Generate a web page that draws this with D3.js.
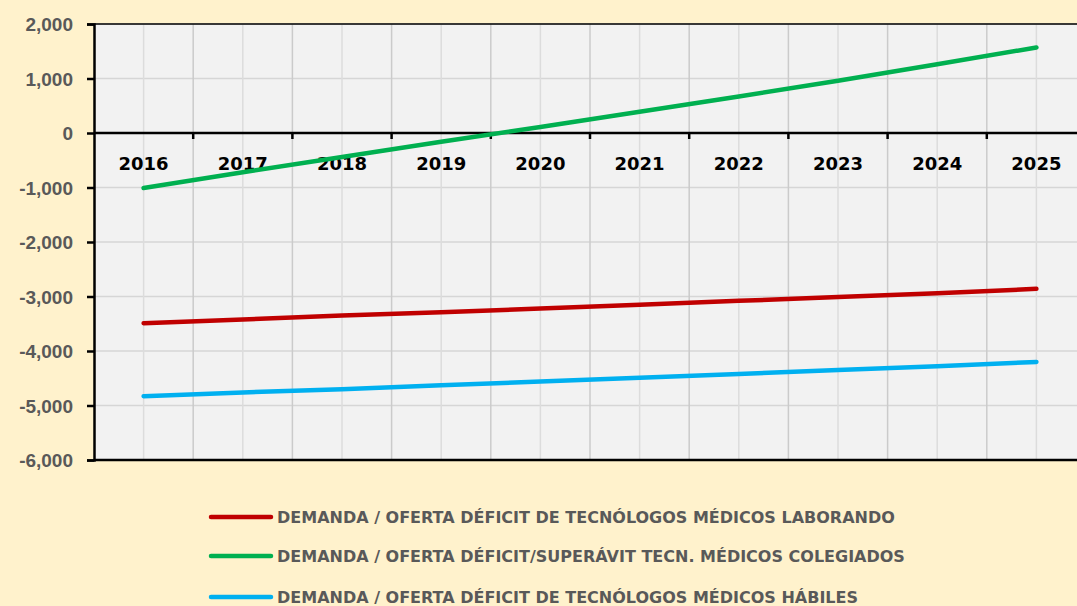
<!DOCTYPE html>
<html>
<head>
<meta charset="utf-8">
<script src="https://cdn.jsdelivr.net/npm/d3@7"></script>
<style>
  body { margin: 0; background: #fff2cc; }
  svg { display: block; font-family: "DejaVu Sans", sans-serif; }
</style>
</head>
<body>
<div id="chart"></div>
<script>
const years = ["2016", "2017", "2018", "2019", "2020", "2021", "2022", "2023", "2024", "2025"];
const laborando = [-3490, -3420, -3350, -3290, -3220, -3150, -3080, -3010, -2940, -2860];
const colegiados = [-1010, -720, -440, -160, 110, 390, 670, 960, 1260, 1570];
const habiles = [-4830, -4760, -4700, -4630, -4560, -4490, -4420, -4350, -4280, -4200];
const yTicks = [2000, 1000, 0, -1000, -2000, -3000, -4000, -5000, -6000];
const seriesNames = [
  "DEMANDA / OFERTA DÉFICIT DE TECNÓLOGOS MÉDICOS LABORANDO",
  "DEMANDA / OFERTA DÉFICIT/SUPERÁVIT TECN. MÉDICOS COLEGIADOS",
  "DEMANDA / OFERTA DÉFICIT DE TECNÓLOGOS MÉDICOS HÁBILES"
];

const width = 1077;
const height = 606;
const margin = { left: 94, top: 24, bottom: 460 };
const plotRight = 1086;

const series = [
  { name: seriesNames[0], values: laborando, color: "#c00000" },
  { name: seriesNames[1], values: colegiados, color: "#00b050" },
  { name: seriesNames[2], values: habiles, color: "#00b0f0" }
];

const svg = d3.select("#chart")
  .append("svg")
  .attr("width", width)
  .attr("height", height);

svg.append("rect")
  .attr("width", width)
  .attr("height", height)
  .attr("fill", "#fff2cc");

const x = d3.scaleBand()
  .domain(years)
  .range([margin.left, plotRight]);

const y = d3.scaleLinear()
  .domain([-6000, 2000])
  .range([margin.bottom, margin.top]);

const fmt = d => d3.format(",")(d).replace("−", "-");

// plot background
svg.append("rect")
  .attr("x", margin.left)
  .attr("y", margin.top)
  .attr("width", plotRight - margin.left)
  .attr("height", margin.bottom - margin.top)
  .attr("fill", "#f2f2f2");

// gridlines
const grid = svg.append("g");
grid.selectAll(".hgrid")
  .data(yTicks)
  .join("line")
  .attr("x1", margin.left)
  .attr("x2", plotRight)
  .attr("y1", d => y(d))
  .attr("y2", d => y(d))
  .attr("stroke", "#d6d6d6")
  .attr("stroke-width", 1.5);

grid.selectAll(".vcenter")
  .data(years)
  .join("line")
  .attr("x1", d => x(d) + x.bandwidth() / 2)
  .attr("x2", d => x(d) + x.bandwidth() / 2)
  .attr("y1", margin.top)
  .attr("y2", margin.bottom)
  .attr("stroke", "#dcdcdc")
  .attr("stroke-width", 1.5);

grid.selectAll(".vband")
  .data(years.slice(1))
  .join("line")
  .attr("x1", d => x(d))
  .attr("x2", d => x(d))
  .attr("y1", margin.top)
  .attr("y2", margin.bottom)
  .attr("stroke", "#cbcbcb")
  .attr("stroke-width", 1.5);

// top and bottom borders
svg.append("line")
  .attr("x1", margin.left).attr("x2", plotRight)
  .attr("y1", margin.top).attr("y2", margin.top)
  .attr("stroke", "#000").attr("stroke-width", 1.5);
svg.append("line")
  .attr("x1", margin.left).attr("x2", plotRight)
  .attr("y1", margin.bottom).attr("y2", margin.bottom)
  .attr("stroke", "#000").attr("stroke-width", 2.5);

// y axis
const yAxis = svg.append("g")
  .attr("transform", `translate(${margin.left},0)`)
  .call(d3.axisLeft(y).tickValues(yTicks).tickSize(7).tickPadding(14).tickFormat(fmt));
yAxis.select(".domain").attr("stroke", "#000").attr("stroke-width", 2.5);
yAxis.selectAll(".tick line").attr("stroke", "#000").attr("stroke-width", 2.5);
yAxis.selectAll(".tick text")
  .attr("fill", "#595959")
  .attr("dy", "0.36em")
  .style("font-size", "19px")
  .style("font-weight", "bold");

// category axis at zero
const xAxis = svg.append("g")
  .attr("transform", `translate(0,${y(0)})`);
xAxis.append("line")
  .attr("x1", margin.left).attr("x2", plotRight)
  .attr("stroke", "#000").attr("stroke-width", 2.5);
xAxis.selectAll(".xtick")
  .data(years.slice(1))
  .join("line")
  .attr("x1", d => x(d)).attr("x2", d => x(d))
  .attr("y1", 0).attr("y2", 6)
  .attr("stroke", "#000").attr("stroke-width", 2.5);
xAxis.selectAll("text")
  .data(years)
  .join("text")
  .attr("x", d => x(d) + x.bandwidth() / 2)
  .attr("y", 37)
  .attr("text-anchor", "middle")
  .attr("fill", "#000")
  .style("font-size", "18px")
  .style("font-weight", "bold")
  .text(d => d);

// lines
const line = d3.line()
  .x((d, i) => x(years[i]) + x.bandwidth() / 2)
  .y(d => y(d));

svg.append("g")
  .selectAll("path")
  .data(series)
  .join("path")
  .attr("d", d => line(d.values))
  .attr("fill", "none")
  .attr("stroke", d => d.color)
  .attr("stroke-width", 4.5)
  .attr("stroke-linecap", "round");

// legend
const legendRows = [517, 556, 597];
const legend = svg.append("g");
const items = legend.selectAll("g")
  .data(series)
  .join("g")
  .attr("transform", (d, i) => `translate(0,${legendRows[i]})`);
items.append("line")
  .attr("x1", 211).attr("x2", 271)
  .attr("stroke", d => d.color)
  .attr("stroke-width", 4.5)
  .attr("stroke-linecap", "round");
items.append("text")
  .attr("x", 277)
  .attr("y", 6)
  .attr("fill", "#595959")
  .style("font-size", "16px")
  .style("font-weight", "bold")
  .text(d => d.name)
  .each(function (d, i) {
    const target = [628, 631, 581][i];
    if (this.getComputedTextLength() > target) {
      d3.select(this).attr("textLength", target).attr("lengthAdjust", "spacingAndGlyphs");
    }
  });
</script>
</body>
</html>
